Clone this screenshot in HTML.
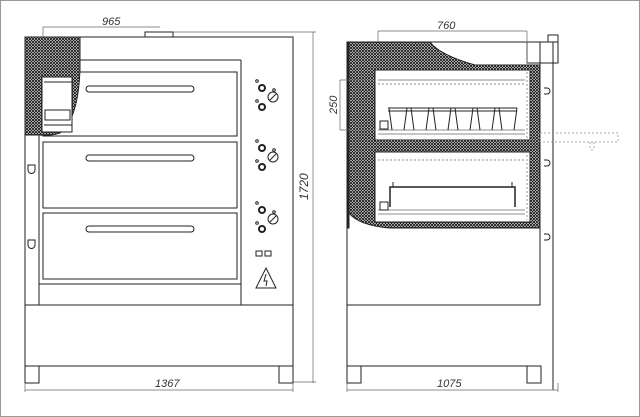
<!DOCTYPE html>
<html><head><style>
html,body{margin:0;padding:0;background:#fff;}
svg{display:block;}
text{font-family:"Liberation Sans",sans-serif;font-style:italic;font-size:11px;fill:#333;}
</style></head><body>
<svg width="640" height="417" viewBox="0 0 640 417" xmlns="http://www.w3.org/2000/svg">
<defs>
<pattern id="h" width="3" height="3" patternUnits="userSpaceOnUse">
<rect width="3" height="3" fill="#fff"/>
<path d="M0 0L3 3M3 0L0 3" stroke="#111" stroke-width="0.9"/>
</pattern>
</defs>
<rect x="0.5" y="0.5" width="639" height="416" fill="#fff" stroke="#999"/>
<g fill="none" stroke="#222" stroke-width="1">
<!-- LEFT VIEW -->
<rect x="25" y="37" width="268" height="268"/>
<rect x="145" y="32" width="28" height="5"/>
<line x1="25" y1="60" x2="241" y2="60"/>
<line x1="39" y1="60" x2="39" y2="305"/>
<line x1="241" y1="60" x2="241" y2="305"/>
<line x1="39" y1="284" x2="241" y2="284"/>
<rect x="43" y="72" width="194" height="64"/>
<rect x="43" y="142" width="194" height="66"/>
<rect x="43" y="213" width="194" height="66"/>
<rect x="86" y="86" width="108" height="6" rx="3"/>
<rect x="86" y="155" width="108" height="6" rx="3"/>
<rect x="86" y="226" width="108" height="6" rx="3"/>
<path d="M28 165h7v5a3.5 3.5 0 0 1-7 0z"/>
<path d="M28 240h7v5a3.5 3.5 0 0 1-7 0z"/>
<rect x="25" y="305" width="268" height="61"/>
<rect x="25" y="366" width="14" height="17"/>
<rect x="279" y="366" width="14" height="17"/>
<!-- hatch -->
<path d="M25 37H80V70Q78 120 60 133Q50 136 40 135H25Z" fill="url(#h)"/>
<rect x="42" y="77" width="30" height="55" fill="#fff"/>
<line x1="44" y1="82" x2="72" y2="82"/><line x1="44" y1="125" x2="72" y2="125"/>
<rect x="45" y="110" width="25" height="10"/>
<!-- knobs -->
<g stroke-width="2">
<circle cx="262" cy="88" r="3"/><circle cx="262" cy="107" r="3"/>
<circle cx="262" cy="148" r="3"/><circle cx="262" cy="167" r="3"/>
<circle cx="262" cy="210" r="3"/><circle cx="262" cy="229" r="3"/>
</g>
<circle cx="257" cy="81" r="1.3"/><circle cx="257" cy="101" r="1.3"/><circle cx="274" cy="90" r="1.3"/>
<circle cx="257" cy="141" r="1.3"/><circle cx="257" cy="161" r="1.3"/><circle cx="274" cy="150" r="1.3"/>
<circle cx="257" cy="203" r="1.3"/><circle cx="257" cy="223" r="1.3"/><circle cx="274" cy="212" r="1.3"/>
<circle cx="273" cy="97" r="5"/><line x1="270" y1="100" x2="276" y2="94"/>
<circle cx="273" cy="157" r="5"/><line x1="270" y1="160" x2="276" y2="154"/>
<circle cx="273" cy="219" r="5"/><line x1="270" y1="222" x2="276" y2="216"/>
<rect x="256" y="251" width="6" height="5"/><rect x="265" y="251" width="6" height="5"/>
<path d="M266 268L276 288H256Z"/><path d="M266 274l-2 7h3l-1 5"/>
<!-- dims left -->
<g stroke="#666" stroke-width="0.7">
<line x1="43" y1="27" x2="160" y2="27"/><line x1="43" y1="27" x2="43" y2="37"/>
<line x1="173" y1="32" x2="316" y2="32"/>
<line x1="313" y1="32" x2="313" y2="383"/>
<line x1="293" y1="382" x2="316" y2="382"/>
<line x1="25" y1="390" x2="293" y2="390"/>
<line x1="25" y1="383" x2="25" y2="392"/><line x1="293" y1="383" x2="293" y2="392"/>
</g>
<!-- RIGHT VIEW -->
<rect x="347" y="42" width="193" height="263"/>
<line x1="540" y1="42" x2="553" y2="42"/>
<line x1="553" y1="42" x2="553" y2="390"/>
<rect x="527" y="42" width="31" height="21"/>
<rect x="548" y="35" width="10" height="7"/>
<path d="M347 42H430Q440 55 475 65H540V228H390Q355 225 347 210Z" fill="url(#h)"/>
<path d="M347 42H349V228H347Z" fill="#222"/>
<rect x="375" y="70" width="155" height="70" fill="#fff"/>
<rect x="375" y="152" width="155" height="70" fill="#fff"/>
<g stroke="#666" stroke-width="0.7">
<line x1="378" y1="80" x2="525" y2="80"/><line x1="378" y1="84" x2="525" y2="84" stroke-dasharray="2 2"/>
<line x1="378" y1="130" x2="525" y2="130"/><line x1="378" y1="134" x2="525" y2="134"/>
<line x1="378" y1="160" x2="525" y2="160" stroke-dasharray="2 2"/>
<line x1="378" y1="210" x2="525" y2="210"/><line x1="378" y1="214" x2="525" y2="214"/>
<line x1="527" y1="72" x2="527" y2="138" stroke-dasharray="2 2"/>
<line x1="527" y1="155" x2="527" y2="220" stroke-dasharray="2 2"/>
</g>
<rect x="380" y="121" width="8" height="8"/><rect x="380" y="202" width="8" height="8"/>
<g stroke-width="1">
<path d="M388 108h129M388 111h129"/>
<path d="M389 108l3 22M407 108l-3 22M411 108l3 22M429 108l-3 22M433 108l3 22M451 108l-3 22M455 108l3 22M473 108l-3 22M477 108l3 22M495 108l-3 22M499 108l3 22M517 108l-3 22"/>
</g>
<path d="M390 207V187H515V207" stroke-width="1.5"/>
<path d="M393 187V182M512 187V182"/>
<path d="M544 88h3a3 3 0 0 1 0 6h-3M544 160h3a3 3 0 0 1 0 6h-3M544 234h3a3 3 0 0 1 0 6h-3"/>
<g stroke="#888" stroke-width="0.7" stroke-dasharray="2 2">
<rect x="540" y="133" width="78" height="9"/>
<path d="M590 142v6a2 2 0 0 0 4 0v-6"/>
</g>
<line x1="347" y1="305" x2="540" y2="305"/>
<line x1="347" y1="305" x2="347" y2="366"/>
<line x1="347" y1="366" x2="540" y2="366"/>
<rect x="347" y="366" width="14" height="17"/>
<rect x="527" y="366" width="14" height="17"/>
<g stroke="#666" stroke-width="0.7">
<line x1="378" y1="31" x2="527" y2="31"/><line x1="378" y1="31" x2="378" y2="42"/><line x1="527" y1="31" x2="527" y2="63"/>
<line x1="340" y1="80" x2="340" y2="130"/><line x1="340" y1="80" x2="375" y2="80"/><line x1="340" y1="130" x2="375" y2="130"/>
<line x1="347" y1="390" x2="558" y2="390"/>
<line x1="347" y1="383" x2="347" y2="392"/><line x1="558" y1="383" x2="558" y2="392"/>
</g>
</g>
<text x="102" y="25">965</text>
<text x="437" y="29">760</text>
<text x="155" y="387">1367</text>
<text x="437" y="387">1075</text>
<text transform="translate(308,200) rotate(-90)" style="font-size:12px">1720</text>
<text transform="translate(337,114) rotate(-90)">250</text>
</svg>
</body></html>
